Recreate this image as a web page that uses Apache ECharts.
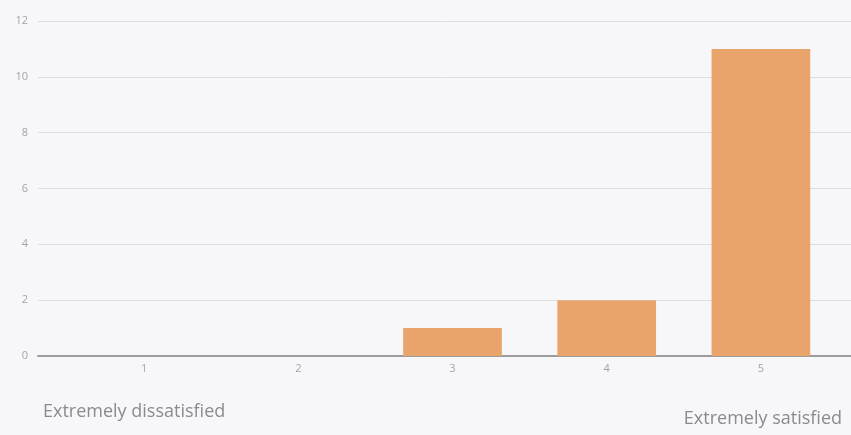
<!DOCTYPE html>
<html>
<head>
<meta charset="utf-8">
<style>
  html, body { margin: 0; padding: 0; background: #f7f7f9; }
  #chart { width: 851px; height: 435px; }
</style>
<script src="https://cdn.jsdelivr.net/npm/echarts@6/dist/echarts.min.js"></script>
</head>
<body>
<div id="chart"></div>
<script>
// Satisfaction rating scale and number of responses per rating
const categories = ['1', '2', '3', '4', '5'];
const responses = [0, 0, 1, 2, 11];
const yMin = 0;
const yMax = 12;
const yStep = 2;
const lowLabel = 'Extremely dissatisfied';
const highLabel = 'Extremely satisfied';

const chart = echarts.init(document.getElementById('chart'), null, { renderer: 'canvas' });

const textFont = '"Open Sans", "DejaVu Sans", sans-serif';
const axisGrey = '#a4a4a8';

chart.setOption({
  backgroundColor: '#f7f7f9',
  animation: false,
  grid: [
    // full-width frame carrying gridlines, value labels and baseline
    { left: 38, right: 0, top: 21, bottom: 79 },
    // inset plotting area for the bars
    { left: 67, right: 13, top: 21, bottom: 79 }
  ],
  xAxis: [
    {
      gridIndex: 0, type: 'value', min: 0, max: 1,
      axisLine: { show: true, lineStyle: { color: '#9c9ca0', width: 2 } },
      axisTick: { show: false }, axisLabel: { show: false }, splitLine: { show: false }
    },
    {
      gridIndex: 1, type: 'category', data: categories,
      axisLine: { show: false }, axisTick: { show: false },
      axisLabel: { color: axisGrey, fontSize: 11, fontFamily: textFont, margin: 7 }
    }
  ],
  yAxis: [
    {
      gridIndex: 0, type: 'value', min: yMin, max: yMax, interval: yStep,
      axisLine: { show: false }, axisTick: { show: false },
      axisLabel: { color: axisGrey, fontSize: 11, fontFamily: textFont, margin: 10 },
      splitLine: { lineStyle: { color: '#dedee2', width: 1 } }
    },
    {
      gridIndex: 1, type: 'value', min: yMin, max: yMax, interval: yStep,
      show: false, splitLine: { show: false }
    }
  ],
  series: [{
    type: 'bar',
    xAxisIndex: 1, yAxisIndex: 1,
    data: responses,
    barCategoryGap: '36%',
    itemStyle: { color: '#e8a46b' }
  }],
  graphic: [
    {
      type: 'text', left: 43, top: 403,
      style: { text: lowLabel, fill: '#8a8a90', font: '18px ' + textFont }
    },
    {
      type: 'text', right: 9, top: 410,
      style: { text: highLabel, fill: '#8a8a90', font: '18px ' + textFont }
    }
  ]
});
</script>
</body>
</html>
